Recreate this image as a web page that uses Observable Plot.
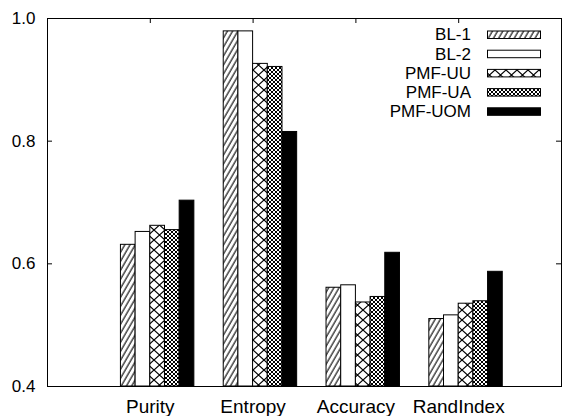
<!DOCTYPE html>
<html><head><meta charset="utf-8">
<script src="https://cdn.jsdelivr.net/npm/d3@7"></script>
<script src="https://cdn.jsdelivr.net/npm/@observablehq/plot@0.6"></script>
<style>body{margin:0;background:#fff} #chart{width:562px;height:416px}</style>
</head><body><div id="chart"></div>
<script>
const categories = ["Purity", "Entropy", "Accuracy", "RandIndex"];
const series = ["BL-1", "BL-2", "PMF-UU", "PMF-UA", "PMF-UOM"];
const bl1 = [0.631, 0.979, 0.561, 0.510];
const bl2 = [0.652, 0.979, 0.565, 0.516];
const pmfUU = [0.662, 0.926, 0.537, 0.535];
const pmfUA = [0.655, 0.921, 0.546, 0.539];
const pmfUOM = [0.703, 0.815, 0.618, 0.587];
const yTicks = [0.4, 0.6, 0.8, 1.0];

const values = [bl1, bl2, pmfUU, pmfUA, pmfUOM];
const fills = ["url(#p-bl1)", "white", "url(#p-uu)", "url(#p-ua)", "black"];
const rows = series.flatMap((s, j) => categories.map((c, i) => ({series: s, category: c, i, j, value: values[j][i]})));
const catIdx = categories.map((c, i) => i);

const W = 562, H = 416, mL = 47, mR = 1, mT = 18, mB = 30;
const innerW = W - mL - mR, innerH = H - mT - mB;
const nS = series.length, slot = 1 / (nS + 2);
const font = "'Liberation Sans', Arial, Helvetica, sans-serif";

const plot = Plot.plot({
  width: W, height: H,
  marginLeft: mL, marginRight: mR, marginTop: mT, marginBottom: mB,
  style: {fontFamily: font, fontSize: "17px", color: "black", background: "white", overflow: "visible"},
  x: {type: "linear", domain: [-1, categories.length]},
  y: {domain: [yTicks[0], yTicks[yTicks.length - 1]]},
  marks: [
    Plot.tickX(catIdx, {x: d => d, insetBottom: innerH - 5, stroke: "black"}),
    Plot.tickX(catIdx, {x: d => d, insetTop: innerH - 5, stroke: "black"}),
    Plot.tickY(yTicks, {y: d => d, insetRight: innerW - 5, stroke: "black"}),
    Plot.tickY(yTicks, {y: d => d, insetLeft: innerW - 5, stroke: "black"}),
    ...series.map((s, j) => Plot.rectY(rows.filter(r => r.j === j), {
      x1: r => r.i - 2 * slot + r.j * slot,
      x2: r => r.i - 2 * slot + (r.j + 1) * slot,
      y1: () => yTicks[0],
      y2: "value",
      fill: fills[j], stroke: "black", strokeWidth: 1
    })),
    Plot.frame({stroke: "black", strokeWidth: 1}),
    Plot.axisY({ticks: yTicks, tickSize: 0, tickPadding: 12, tickFormat: d3.format(".1f"), label: null, fontSize: 17}),
    Plot.axisX({ticks: catIdx, tickSize: 0, tickPadding: 13, tickFormat: i => categories[i], label: null, fontSize: 19})
  ]
});

const svg = d3.select(plot);
const defs = svg.insert("defs", ":first-child");
// BL-1: diagonal hatch
const p1 = defs.append("pattern").attr("id", "p-bl1").attr("patternUnits", "userSpaceOnUse")
  .attr("width", 4.5).attr("height", 10).attr("patternTransform", "rotate(30)");
p1.append("rect").attr("width", 4.5).attr("height", 10).attr("fill", "white");
p1.append("line").attr("x1", 1).attr("y1", 0).attr("x2", 1).attr("y2", 10).attr("stroke", "black").attr("stroke-width", 1.1);
// PMF-UU: large cross-hatch
const p2 = defs.append("pattern").attr("id", "p-uu").attr("patternUnits", "userSpaceOnUse")
  .attr("width", 11).attr("height", 10);
p2.append("rect").attr("width", 11).attr("height", 10).attr("fill", "white");
p2.append("path").attr("d", "M0,0L11,10M11,0L0,10").attr("stroke", "black").attr("stroke-width", 1.2);
// PMF-UA: dense cross-hatch
const p3 = defs.append("pattern").attr("id", "p-ua").attr("patternUnits", "userSpaceOnUse")
  .attr("width", 4).attr("height", 4);
p3.append("rect").attr("width", 4).attr("height", 4).attr("fill", "white");
p3.append("path").attr("d", "M0,0L4,4M4,0L0,4").attr("stroke", "black").attr("stroke-width", 1);

// Legend (top right, inside frame)
const lg = svg.append("g").attr("font-family", font).attr("font-size", 17);
series.forEach((s, k) => {
  const cy = 34.5 + k * 19.2;
  lg.append("text").attr("x", 471).attr("y", cy).attr("dy", "0.35em")
    .attr("text-anchor", "end").attr("fill", "black").text(s);
  lg.append("rect").attr("x", 487.5).attr("y", cy - 3.5).attr("width", 53).attr("height", 7.5)
    .attr("fill", fills[k]).attr("stroke", "black").attr("stroke-width", 1);
});

document.getElementById("chart").appendChild(plot);
</script>
</body></html>
